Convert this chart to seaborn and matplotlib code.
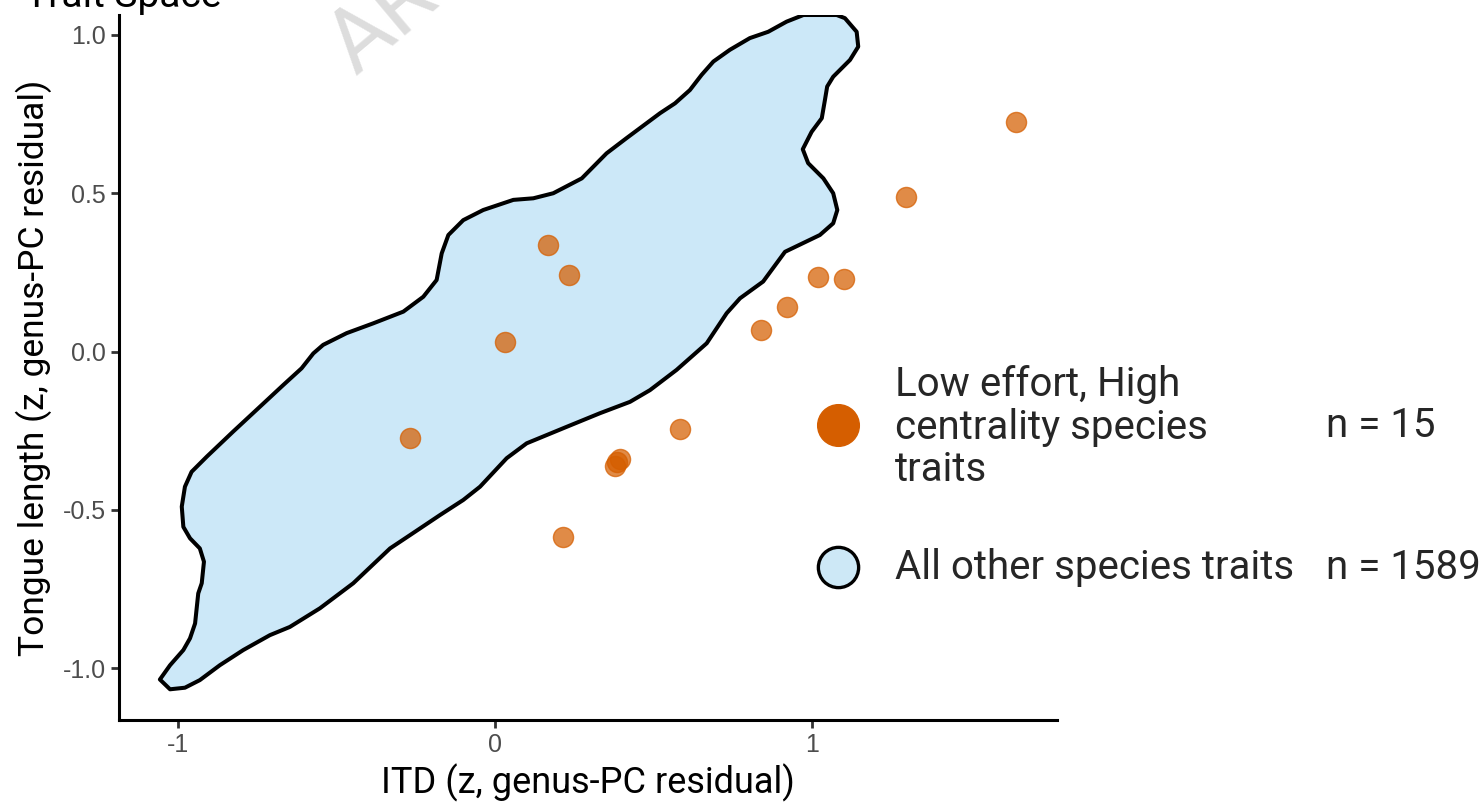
import matplotlib
matplotlib.use("Agg")
import matplotlib.pyplot as plt
import seaborn as sns
import pandas as pd
from matplotlib.lines import Line2D

# ---- data ----
focal_itd = [1.644, 1.297, 0.166, 0.232, 1.020, 1.101, 0.921, 0.839, 0.032,
             0.584, -0.269, 0.394, 0.385, 0.379, 0.214]
focal_tongue = [0.725, 0.488, 0.337, 0.241, 0.234, 0.228, 0.140, 0.068, 0.031,
                -0.246, -0.272, -0.339, -0.348, -0.362, -0.585]

hull_itd = [-1.057, -1.025, -0.978, -0.931, -0.868, -0.794, -0.710, -0.647, -0.552,
            -0.447, -0.331, -0.268, -0.174, -0.100, -0.047, 0.037, 0.100, 0.226,
            0.331, 0.426, 0.489, 0.573, 0.668, 0.731, 0.773, 0.846, 0.915, 1.025,
            1.067, 1.080, 1.067, 1.036, 0.988, 0.971, 0.999, 1.031, 1.041, 1.048,
            1.067, 1.120, 1.146, 1.141, 1.104, 1.078, 0.973, 0.920, 0.862, 0.804,
            0.741, 0.689, 0.652, 0.615, 0.568, 0.521, 0.415, 0.352, 0.274, 0.184,
            0.121, 0.058, -0.037, -0.100, -0.147, -0.168, -0.184, -0.226, -0.289,
            -0.384, -0.468, -0.542, -0.573, -0.610, -0.668, -0.741, -0.826, -0.909,
            -0.957, -0.978, -0.988, -0.983, -0.962, -0.931, -0.918, -0.925, -0.936,
            -0.946, -0.962, -0.983, -1.025]
hull_tongue = [-1.036, -1.067, -1.062, -1.038, -0.991, -0.943, -0.896, -0.870, -0.811,
               -0.732, -0.622, -0.580, -0.517, -0.469, -0.427, -0.337, -0.290, -0.238,
               -0.195, -0.159, -0.122, -0.058, 0.026, 0.121, 0.168, 0.221, 0.315, 0.368,
               0.405, 0.447, 0.500, 0.547, 0.595, 0.639, 0.694, 0.737, 0.795, 0.837,
               0.868, 0.921, 0.963, 1.010, 1.053, 1.063, 1.063, 1.042, 1.010, 0.990,
               0.953, 0.916, 0.874, 0.826, 0.784, 0.753, 0.674, 0.626, 0.547, 0.500,
               0.484, 0.479, 0.447, 0.415, 0.368, 0.310, 0.226, 0.173, 0.126,
               0.089, 0.058, 0.021, -0.006, -0.053, -0.106, -0.174, -0.253, -0.332,
               -0.380, -0.427, -0.490, -0.554, -0.590, -0.622, -0.664, -0.732, -0.764,
               -0.859, -0.906, -0.943, -0.991]

x_ticks = [-1, 0, 1]
x_ticklabels = ["-1", "0", "1"]
y_ticks = [-1.0, -0.5, 0.0, 0.5, 1.0]
y_ticklabels = ["-1.0", "-0.5", "0.0", "0.5", "1.0"]

legend_labels = ["Low effort, High\ncentrality species\ntraits", "All other species traits"]
legend_counts = ["n = 15", "n = 1589"]

title = "Trait Space"
xlabel = "ITD (z, genus-PC residual)"
ylabel = "Tongue length (z, genus-PC residual)"

ORANGE = "#D55E00"
BLUE = "#56B4E9"

# ---- style ----
sns.set_theme(style="white")
plt.rcParams["font.family"] = ["Roboto", "DejaVu Sans"]
plt.rcParams["axes.unicode_minus"] = False

fig = plt.figure(figsize=(14.81, 8.05), dpi=100)
ax = fig.add_axes([119 / 1481, 1 - 720 / 805, (1057 - 119) / 1481, (720 - 15) / 805])

ax.fill(hull_itd, hull_tongue, facecolor=BLUE, alpha=0.3, edgecolor="none", zorder=1)
ax.fill(hull_itd, hull_tongue, facecolor="none", edgecolor="black", linewidth=2.9,
        joinstyle="round", zorder=2)

df = pd.DataFrame({"itd": focal_itd, "tongue": focal_tongue})
sns.scatterplot(data=df, x="itd", y="tongue", ax=ax, color=ORANGE, alpha=0.72,
                s=210, edgecolor=ORANGE, linewidth=1.0, zorder=3, legend=False)

ax.set_xlim(-1.186, 1.773)
ax.set_ylim(-1.164, 1.063)
ax.set_xticks(x_ticks)
ax.set_xticklabels(x_ticklabels, family=["Liberation Sans", "DejaVu Sans"])
ax.set_yticks(y_ticks)
ax.set_yticklabels(y_ticklabels, family=["Liberation Sans", "DejaVu Sans"])
ax.tick_params(axis="both", which="major", length=6, width=2.0, color="#333333",
               labelcolor="#4D4D4D", labelsize=18, direction="out", pad=3.5,
               bottom=True, left=True)
for side in ["top", "right"]:
    ax.spines[side].set_visible(False)
for side in ["left", "bottom"]:
    ax.spines[side].set_color("black")
    ax.spines[side].set_linewidth(2.2)
ax.grid(False)
ax.set_xlabel(xlabel, fontsize=26, color="black", labelpad=5)
ax.set_ylabel(ylabel, fontsize=25.5, color="black", labelpad=8)

# title (partly outside the canvas, as in the reference)
fig.text(25 / 1481, 1 - 7 / 805, title, fontsize=28, color="black", ha="left", va="baseline")

# watermark
fig.text(356 / 1481, 1 - 76 / 805, "ARCHIVED", fontsize=64, color="#DDDDDD",
         rotation=40, ha="left", va="baseline", rotation_mode="anchor", zorder=0)

# legend drawn manually
fig.add_artist(Line2D([838 / 1481], [1 - 425 / 805], marker="o", markersize=30,
                      markerfacecolor=ORANGE, markeredgecolor=ORANGE, linestyle="none",
                      transform=fig.transFigure))
fig.add_artist(Line2D([838 / 1481], [1 - 567 / 805], marker="o", markersize=29,
                      markerfacecolor="#CDE8F6", markeredgecolor="black", markeredgewidth=2.4,
                      linestyle="none", transform=fig.transFigure))
fig.text(895 / 1481, 1 - 427 / 805, legend_labels[0], fontsize=29, ha="left", va="center",
         linespacing=1.12)
fig.text(895 / 1481, 1 - 567 / 805, legend_labels[1], fontsize=29, ha="left", va="center")
fig.text(1326 / 1481, 1 - 425 / 805, legend_counts[0], fontsize=29, ha="left", va="center")
fig.text(1326 / 1481, 1 - 567 / 805, legend_counts[1], fontsize=29, ha="left", va="center")

fig.savefig("out.png", dpi=100)
